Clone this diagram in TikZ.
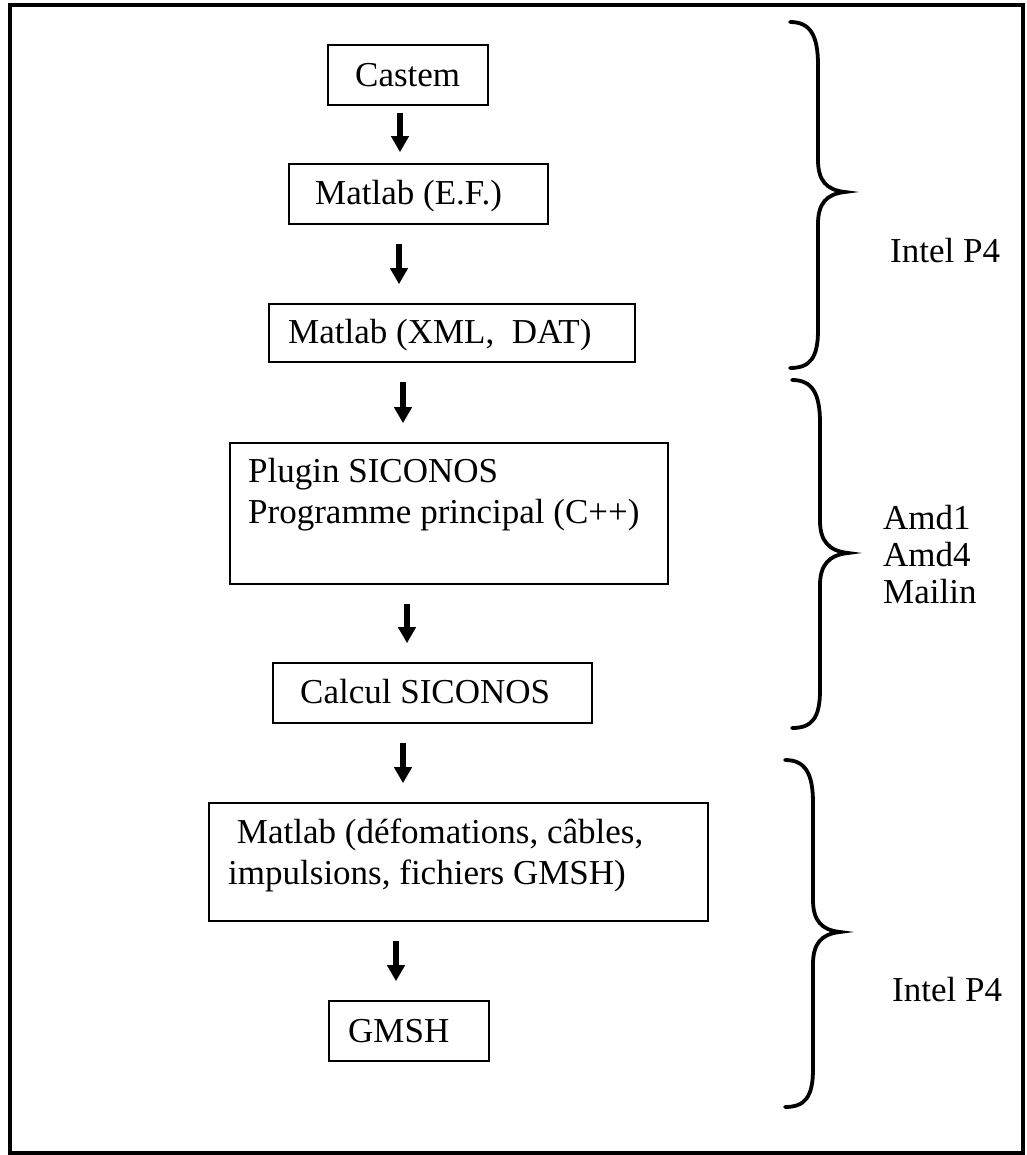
\documentclass[tikz,border=0pt]{standalone}
\usepackage{fontspec}
\setmainfont{Liberation Serif}
\usetikzlibrary{arrows.meta}
\begin{document}
\begin{tikzpicture}[x=1pt,y=-1pt,
  box/.style={draw, line width=1.6pt, inner sep=0pt},
  txt/.style={anchor=base west, inner sep=0pt, font=\fontsize{35}{41}\selectfont},
  mtxt/.style={anchor=north west, inner sep=0pt, align=left, font=\fontsize{35}{41}\selectfont},
  arr/.style={line width=5.5pt, -{Triangle[width=17pt,length=16pt]}, shorten <=19pt, shorten >=19pt},
  brc/.style={line width=3.8pt, line cap=round}]
\useasboundingbox (0,0) rectangle (1026,1155);
\fill[white] (0,0) rectangle (1026,1155);
% outer frame
\draw[line width=3.5pt] (10,5) rectangle (1023,1153);
% boxes
\node[box, minimum width=160pt, minimum height=60pt] (castem) at (408,75) {};
\node[box, minimum width=259pt, minimum height=60pt] (ef) at (418.5,194) {};
\node[box, minimum width=366pt, minimum height=58pt] (xml) at (452,333) {};
\node[box, minimum width=438pt, minimum height=141pt] (plugin) at (449,513.5) {};
\node[box, minimum width=319pt, minimum height=60pt] (calcul) at (432.5,693) {};
\node[box, minimum width=499pt, minimum height=118pt] (mdef) at (458.5,862) {};
\node[box, minimum width=160pt, minimum height=60pt] (gmsh) at (409,1031) {};
% texts
\node[txt] (tcastem) at (355,86.5) {Castem};
\node[txt] (tef) at (315,205) {Matlab (E.F.)};
\node[txt] (txml) at (288,343) {Matlab (XML,\ \ DAT)};
\node[mtxt] (tplugin) at (248,458) {Plugin SICONOS\\Programme principal (C++)};
\node[txt] (tcalcul) at (300,703) {Calcul SICONOS};
\node[mtxt] (tmdef) at (228,819) {\hspace*{.25em}Matlab (défomations, câbles,\\impulsions, fichiers GMSH)};
\node[txt] (tgmsh) at (348,1042) {GMSH};
% arrow columns
\coordinate (c1) at (400,0);
\coordinate (c2) at (399,0);
\coordinate (c3) at (403,0);
\coordinate (c4) at (407,0);
\coordinate (c5) at (403,0);
\coordinate (c6) at (396,0);
\draw[arr, shorten <=7pt, shorten >=11pt] (castem.south -| c1) -- (ef.north -| c1);
\draw[arr] (ef.south -| c2) -- (xml.north -| c2);
\draw[arr] (xml.south -| c3) -- (plugin.north -| c3);
\draw[arr] (plugin.south -| c4) -- (calcul.north -| c4);
\draw[arr] (calcul.south -| c5) -- (mdef.north -| c5);
\draw[arr] (mdef.south -| c6) -- (gmsh.north -| c6);
% braces
\draw[brc] (790,22) .. controls (810,22) and (818,35) .. (818,65) -- (818,160) .. controls (818,180) and (826,190) .. (845,192) .. controls (826,194) and (818,204) .. (818,224) -- (818,330) .. controls (818,358) and (810,368) .. (790,368);
\draw[brc] (792,380) .. controls (812,380) and (820,393) .. (820,423) -- (820,521) .. controls (820,541) and (829,551) .. (848,553) .. controls (829,555) and (820,565) .. (820,585) -- (820,690) .. controls (820,718) and (812,728) .. (792,728);
\draw[brc] (785,760) .. controls (805,760) and (813,773) .. (813,803) -- (813,900) .. controls (813,920) and (821,930) .. (840,932) .. controls (821,934) and (813,944) .. (813,964) -- (813,1069) .. controls (813,1097) and (805,1107) .. (785,1107);
% labels
\node[txt] (intel1) at (890,263) {Intel P4};
\node[anchor=north west, inner sep=0pt, align=left, font=\fontsize{35}{37}\selectfont] (amd) at (883,505.5) {Amd1\\Amd4\\Mailin};
\node[txt] (intel2) at (892,1001) {Intel P4};
\end{tikzpicture}
\end{document}
